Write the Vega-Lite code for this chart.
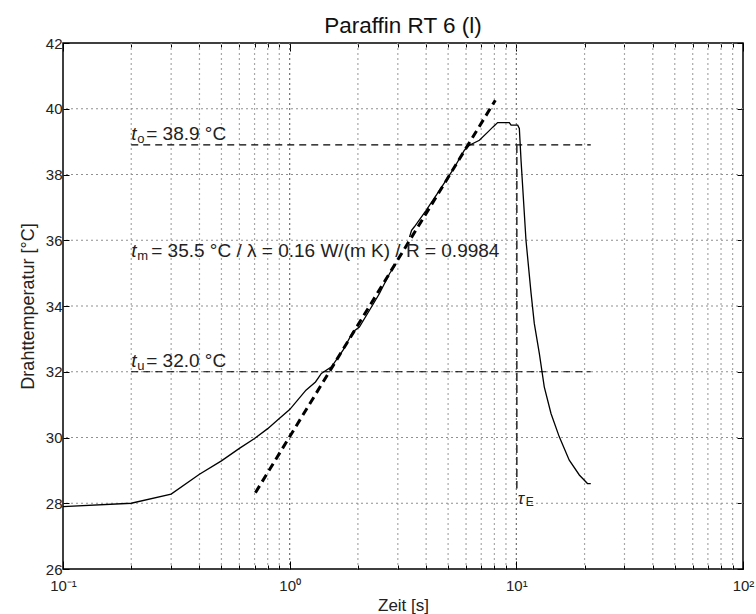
{
  "$schema": "https://vega.github.io/schema/vega-lite/v6.json",
  "width": 680,
  "height": 526,
  "autosize": "none",
  "padding": {"left": 63, "top": 43, "right": 13, "bottom": 45},
  "background": "white",
  "title": {"text": "Paraffin RT 6 (l)", "fontSize": 22.5, "font": "Liberation Sans", "fontWeight": "normal", "offset": -1, "color": "#111"},
  "config": {
    "view": {"stroke": "black", "strokeWidth": 1.5},
    "font": "Liberation Sans",
    "axis": {"labelFont": "Liberation Sans", "titleFont": "Liberation Sans", "titleFontWeight": "normal", "labelColor": "#222", "titleColor": "#222", "domainColor": "black", "tickColor": "black", "labelFlush": false}
  },
  "datasets": {
    "gridMinor": [
      {"t": 0.2}, {"t": 0.3}, {"t": 0.4}, {"t": 0.5}, {"t": 0.6}, {"t": 0.7}, {"t": 0.8}, {"t": 0.9},
      {"t": 2}, {"t": 3}, {"t": 4}, {"t": 5}, {"t": 6}, {"t": 7}, {"t": 8}, {"t": 9},
      {"t": 20}, {"t": 30}, {"t": 40}, {"t": 50}, {"t": 60}, {"t": 70}, {"t": 80}, {"t": 90}
    ],
    "gridMajor": [{"t": 1}, {"t": 10}],
    "gridY": [{"T": 28}, {"T": 30}, {"T": 32}, {"T": 34}, {"T": 36}, {"T": 38}, {"T": 40}],
    "curveA": [
      {"t": 0.1, "T": 27.9},
      {"t": 0.2, "T": 28.0},
      {"t": 0.3, "T": 28.28},
      {"t": 0.4, "T": 28.88},
      {"t": 0.5, "T": 29.29},
      {"t": 0.6, "T": 29.67},
      {"t": 0.7, "T": 29.97},
      {"t": 0.8, "T": 30.27},
      {"t": 0.9, "T": 30.58},
      {"t": 1.0, "T": 30.85},
      {"t": 1.18, "T": 31.44},
      {"t": 1.3, "T": 31.69},
      {"t": 1.38, "T": 31.95},
      {"t": 1.53, "T": 32.15},
      {"t": 1.72, "T": 32.66},
      {"t": 1.9, "T": 33.21},
      {"t": 2.03, "T": 33.36},
      {"t": 2.25, "T": 33.87},
      {"t": 2.49, "T": 34.38},
      {"t": 2.76, "T": 34.99},
      {"t": 2.95, "T": 35.29}
    ],
    "curveB": [
      {"t": 3.38, "T": 36.1},
      {"t": 3.45, "T": 36.3},
      {"t": 3.55, "T": 36.41},
      {"t": 4.0, "T": 36.91},
      {"t": 4.58, "T": 37.52},
      {"t": 5.24, "T": 38.13},
      {"t": 5.9, "T": 38.74},
      {"t": 6.21, "T": 38.89},
      {"t": 6.87, "T": 39.04},
      {"t": 7.48, "T": 39.29},
      {"t": 7.87, "T": 39.44},
      {"t": 8.27, "T": 39.58},
      {"t": 9.31, "T": 39.58},
      {"t": 9.48, "T": 39.5},
      {"t": 10.14, "T": 39.5},
      {"t": 10.31, "T": 39.4},
      {"t": 10.49, "T": 38.43},
      {"t": 11.03, "T": 36.0},
      {"t": 11.61, "T": 34.4},
      {"t": 12.0, "T": 33.47},
      {"t": 12.63, "T": 32.56},
      {"t": 13.28, "T": 31.54},
      {"t": 14.22, "T": 30.73},
      {"t": 15.47, "T": 30.02},
      {"t": 17.12, "T": 29.31},
      {"t": 18.96, "T": 28.86},
      {"t": 20.6, "T": 28.6},
      {"t": 21.3, "T": 28.6}
    ],
    "fit": [
      {"t": 0.706, "T": 28.32},
      {"t": 8.08, "T": 40.26}
    ],
    "levels": [
      {"t0": 0.2, "t1": 21.3, "T": 38.9, "sub": "o", "rest": "= 38.9 °C"},
      {"t0": 0.2, "t1": 21.3, "T": 32.0, "sub": "u", "rest": "= 32.0 °C"}
    ],
    "mid": [
      {"t0": 0.2, "T": 35.5, "sub": "m", "rest": "= 35.5 °C / λ = 0.16 W/(m K) / R = 0.9984"}
    ],
    "end": [
      {"t": 10.05, "T0": 38.9, "T1": 28.45, "sub": "E"}
    ]
  },
  "layer": [
    {
      "data": {"name": "gridMinor"},
      "mark": {"type": "rule", "color": "#a8a8a8", "strokeWidth": 1.2, "strokeDash": [2, 3]},
      "encoding": {
        "x": {"field": "t", "type": "quantitative", "scale": {"type": "log", "domain": [0.1, 100], "nice": false}, "axis": null}
      }
    },
    {
      "data": {"name": "gridMajor"},
      "mark": {"type": "rule", "color": "#707070", "strokeWidth": 1.2, "strokeDash": [2, 3]},
      "encoding": {
        "x": {"field": "t", "type": "quantitative", "scale": {"type": "log", "domain": [0.1, 100], "nice": false}, "axis": null}
      }
    },
    {
      "data": {"name": "gridY"},
      "mark": {"type": "rule", "color": "#909090", "strokeWidth": 1.2, "strokeDash": [2, 3]},
      "encoding": {
        "y": {"field": "T", "type": "quantitative", "scale": {"domain": [26, 42], "nice": false, "zero": false}, "axis": null}
      }
    },
    {
      "data": {"name": "curveA"},
      "mark": {"type": "line", "color": "black", "strokeWidth": 1.3},
      "encoding": {
        "x": {
          "field": "t", "type": "quantitative",
          "scale": {"type": "log", "domain": [0.1, 100], "nice": false},
          "axis": {
            "orient": "bottom",
            "zindex": 1,
            "values": [0.1,0.2,0.3,0.4,0.5,0.6,0.7,0.8,0.9,1,2,3,4,5,6,7,8,9,10,20,30,40,50,60,70,80,90,100],
            "labelExpr": "datum.value == 0.1 ? '10⁻¹' : datum.value == 1 ? '10⁰' : datum.value == 10 ? '10¹' : datum.value == 100 ? '10²' : ''",
            "labelOverlap": false,
            "labelFontSize": 15,
            "labelPadding": 17,
            "title": "Zeit [s]",
            "titleFontSize": 17,
            "titlePadding": 0,
            "grid": false,
            "tickSize": {"condition": {"test": "datum.value == 1 || datum.value == 10 || datum.value == 0.1 || datum.value == 100", "value": -8}, "value": -4},
            "domain": false
          }
        },
        "y": {
          "field": "T", "type": "quantitative",
          "scale": {"domain": [26, 42], "nice": false, "zero": false},
          "axis": {
            "orient": "left",
            "zindex": 1,
            "values": [26,28,30,32,34,36,38,40,42],
            "labelFontSize": 15,
            "labelPadding": 7,
            "title": "Drahttemperatur [°C]",
            "titleFontSize": 18,
            "titlePadding": 8,
            "grid": false,
            "tickSize": -6,
            "domain": false
          }
        }
      }
    },
    {
      "data": {"name": "curveB"},
      "mark": {"type": "line", "color": "black", "strokeWidth": 1.3},
      "encoding": {
        "x": {
          "field": "t", "type": "quantitative",
          "axis": {
            "orient": "top",
            "values": [0.1,0.2,0.3,0.4,0.5,0.6,0.7,0.8,0.9,1,2,3,4,5,6,7,8,9,10,20,30,40,50,60,70,80,90,100],
            "labels": false, "title": null, "grid": false,
            "tickSize": {"condition": {"test": "datum.value == 1 || datum.value == 10 || datum.value == 0.1 || datum.value == 100", "value": -8}, "value": -4},
            "domain": false
          }
        },
        "y": {
          "field": "T", "type": "quantitative",
          "axis": {
            "orient": "right",
            "values": [26,28,30,32,34,36,38,40,42],
            "labels": false, "title": null, "grid": false, "tickSize": -6, "domain": false
          }
        }
      }
    },
    {
      "data": {"name": "fit"},
      "mark": {"type": "line", "color": "black", "strokeWidth": 3, "strokeDash": [8, 5]},
      "encoding": {
        "x": {"field": "t", "type": "quantitative", "axis": null},
        "y": {"field": "T", "type": "quantitative", "axis": null}
      }
    },
    {
      "data": {"name": "levels"},
      "mark": {"type": "rule", "color": "black", "strokeWidth": 1.2, "strokeDash": [7, 5]},
      "encoding": {
        "x": {"field": "t0", "type": "quantitative", "axis": null},
        "x2": {"field": "t1"},
        "y": {"field": "T", "type": "quantitative", "axis": null}
      }
    },
    {
      "data": {"name": "end"},
      "mark": {"type": "rule", "color": "#333", "strokeWidth": 1.6, "strokeDash": [8, 4]},
      "encoding": {
        "x": {"field": "t", "type": "quantitative", "axis": null},
        "y": {"field": "T0", "type": "quantitative", "axis": null},
        "y2": {"field": "T1"}
      }
    },
    {
      "data": {"name": "levels"},
      "mark": {"type": "text", "text": "t", "fontStyle": "italic", "fontSize": 19, "align": "left", "baseline": "alphabetic", "dy": -5, "color": "#222"},
      "encoding": {
        "x": {"field": "t0", "type": "quantitative", "axis": null},
        "y": {"field": "T", "type": "quantitative", "axis": null}
      }
    },
    {
      "data": {"name": "levels"},
      "mark": {"type": "text", "fontSize": 13, "align": "left", "baseline": "alphabetic", "dx": 6, "dy": -2, "color": "#222"},
      "encoding": {
        "x": {"field": "t0", "type": "quantitative", "axis": null},
        "y": {"field": "T", "type": "quantitative", "axis": null},
        "text": {"field": "sub"}
      }
    },
    {
      "data": {"name": "levels"},
      "mark": {"type": "text", "fontSize": 19, "align": "left", "baseline": "alphabetic", "dx": 15, "dy": -5, "color": "#222"},
      "encoding": {
        "x": {"field": "t0", "type": "quantitative", "axis": null},
        "y": {"field": "T", "type": "quantitative", "axis": null},
        "text": {"field": "rest"}
      }
    },
    {
      "data": {"name": "mid"},
      "mark": {"type": "text", "text": "t", "fontStyle": "italic", "fontSize": 19, "align": "left", "baseline": "alphabetic", "dy": 0, "color": "#222"},
      "encoding": {
        "x": {"field": "t0", "type": "quantitative", "axis": null},
        "y": {"field": "T", "type": "quantitative", "axis": null}
      }
    },
    {
      "data": {"name": "mid"},
      "mark": {"type": "text", "fontSize": 13, "align": "left", "baseline": "alphabetic", "dx": 6, "dy": 3, "color": "#222"},
      "encoding": {
        "x": {"field": "t0", "type": "quantitative", "axis": null},
        "y": {"field": "T", "type": "quantitative", "axis": null},
        "text": {"field": "sub"}
      }
    },
    {
      "data": {"name": "mid"},
      "mark": {"type": "text", "fontSize": 19, "align": "left", "baseline": "alphabetic", "dx": 20, "dy": 0, "color": "#222"},
      "encoding": {
        "x": {"field": "t0", "type": "quantitative", "axis": null},
        "y": {"field": "T", "type": "quantitative", "axis": null},
        "text": {"field": "rest"}
      }
    },
    {
      "data": {"name": "end"},
      "mark": {"type": "text", "text": "τ", "fontStyle": "italic", "fontSize": 17, "align": "left", "baseline": "top", "dx": 1, "dy": 3, "color": "#222"},
      "encoding": {
        "x": {"field": "t", "type": "quantitative", "axis": null},
        "y": {"field": "T1", "type": "quantitative", "axis": null}
      }
    },
    {
      "data": {"name": "end"},
      "mark": {"type": "text", "fontSize": 12, "align": "left", "baseline": "top", "dx": 9, "dy": 9, "color": "#222"},
      "encoding": {
        "x": {"field": "t", "type": "quantitative", "axis": null},
        "y": {"field": "T1", "type": "quantitative", "axis": null},
        "text": {"field": "sub"}
      }
    }
  ],
  "resolve": {"axis": {"x": "independent", "y": "independent"}}
}
